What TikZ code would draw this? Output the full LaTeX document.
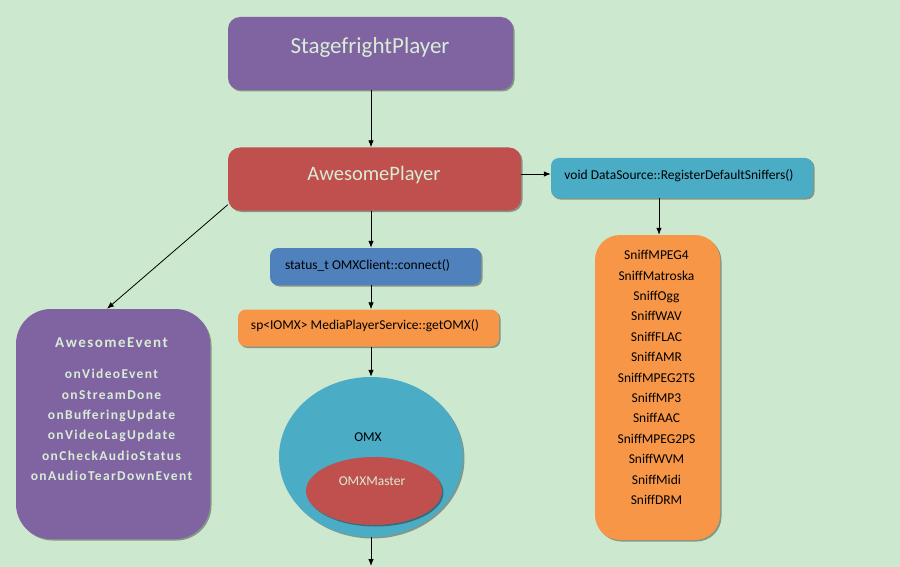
\documentclass[tikz,border=0pt]{standalone}
\usepackage{fontspec}
\setmainfont{Carlito}
\newfontfamily\aefont[LetterSpace=10]{Carlito}
\usetikzlibrary{arrows.meta,shadows,calc,shapes.geometric}
\definecolor{bgc}{RGB}{204,232,207}
\definecolor{cpurple}{RGB}{128,100,162}
\definecolor{cred}{RGB}{192,80,77}
\definecolor{caqua}{RGB}{75,172,198}
\definecolor{cblue}{RGB}{79,129,189}
\definecolor{corange}{RGB}{247,150,70}
\definecolor{clight}{RGB}{216,236,214}
\begin{document}
\begin{tikzpicture}[x=1pt,y=-1pt,
  box/.style={draw=none, rounded corners=#1, inner sep=0pt,
    drop shadow={shadow xshift=1.5pt,shadow yshift=-1.5pt,opacity=0.35,fill=black}},
  box/.default=10,
  oval/.style={ellipse, draw=none, inner sep=0pt,
    drop shadow={shadow xshift=1.5pt,shadow yshift=-1.5pt,opacity=0.35,fill=black}},
  arr/.style={-{Latex[length=7pt,width=5.5pt]}, line width=0.8pt, black},
  small/.style={font=\fontsize{13.5}{16}\selectfont, text=black, inner sep=0pt}
]
\fill[bgc] (0,0) rectangle (900,567);
\useasboundingbox (0,0) rectangle (900,567);

% boxes
\node[box=12, fill=cpurple, minimum width=285, minimum height=73] (sfp) at (370.5,53.5) {};
\node[font=\fontsize{23}{26}\selectfont, text=clight, inner sep=0pt] (sfpt) at (370,47) {StagefrightPlayer};

\node[box=12, fill=cred, minimum width=293, minimum height=63] (ap) at (374.5,179) {};
\node[font=\fontsize{20.5}{24}\selectfont, text=clight, inner sep=0pt] (apt) at (374,175) {AwesomePlayer};

\node[box=8, fill=caqua, minimum width=262, minimum height=40] (ds) at (682,178) {};
\node[small] (dst) at (679,176) {void DataSource::RegisterDefaultSniffers()};

\node[box=25, fill=corange, minimum width=125, minimum height=305] (sn) at (657.5,387.5) {};
\node[small, align=center, font=\fontsize{13.5}{20.42}\selectfont] (snt) at (656.5,377.5)
  {SniffMPEG4\\SniffMatroska\\SniffOgg\\SniffWAV\\SniffFLAC\\SniffAMR\\SniffMPEG2TS\\SniffMP3\\SniffAAC\\SniffMPEG2PS\\SniffWVM\\SniffMidi\\SniffDRM};

\node[box=8, fill=cblue, minimum width=211, minimum height=37] (st) at (375.5,266.5) {};
\node[small] (stt) at (367.5,265) {status\_t OMXClient::connect()};

\node[box=8, fill=corange, minimum width=261, minimum height=37] (gm) at (368.5,328) {};
\node[small] (gmt) at (365,326) {sp<IOMX> MediaPlayerService::getOMX()};

\node[box=35, fill=cpurple, minimum width=194, minimum height=230] (ae) at (113,424) {};
\node[font=\aefont\bfseries\fontsize{15}{18}\selectfont, text=clight, inner sep=0pt] (aet) at (111.5,343) {AwesomeEvent};
\node[font=\aefont\bfseries\fontsize{13.5}{20.4}\selectfont, text=clight, inner sep=0pt, align=center] (aei) at (111.5,425)
  {onVideoEvent\\onStreamDone\\onBufferingUpdate\\onVideoLagUpdate\\onCheckAudioStatus\\onAudioTearDownEvent};

\node[oval, fill=caqua, minimum width=184, minimum height=160] (omx) at (371,457) {};
\node[small] (omxt) at (368,437) {OMX};
\node[oval, fill=cred, minimum width=136, minimum height=68] (omxm) at (374,491) {};
\node[small, text=clight] (omxmt) at (372,481) {OMXMaster};

\coordinate (bot) at (371,566);

% connectors
\draw[arr] (sfp.south -| omx.north) -- (ap.north -| omx.north);
\draw[arr] (ap.south -| omx.north) -- (st.north -| omx.north);
\draw[arr] (st.south -| omx.north) -- (gm.north -| omx.north);
\draw[arr] (gm.south -| omx.north) -- (omx.north);
\draw[arr] (omx.south) -- (bot);
\draw[arr] ([yshift=5pt]ap.east) -- ([yshift=5pt]ap.east -| ds.west);
\draw[arr] ([xshift=-23pt]ds.south) -- ([xshift=-23pt]ds.south |- sn.north);
\draw[arr] ($(ap.south west)+(0,-6)$) -- ($(ae.north)+(-6,0)$);
\end{tikzpicture}
\end{document}
